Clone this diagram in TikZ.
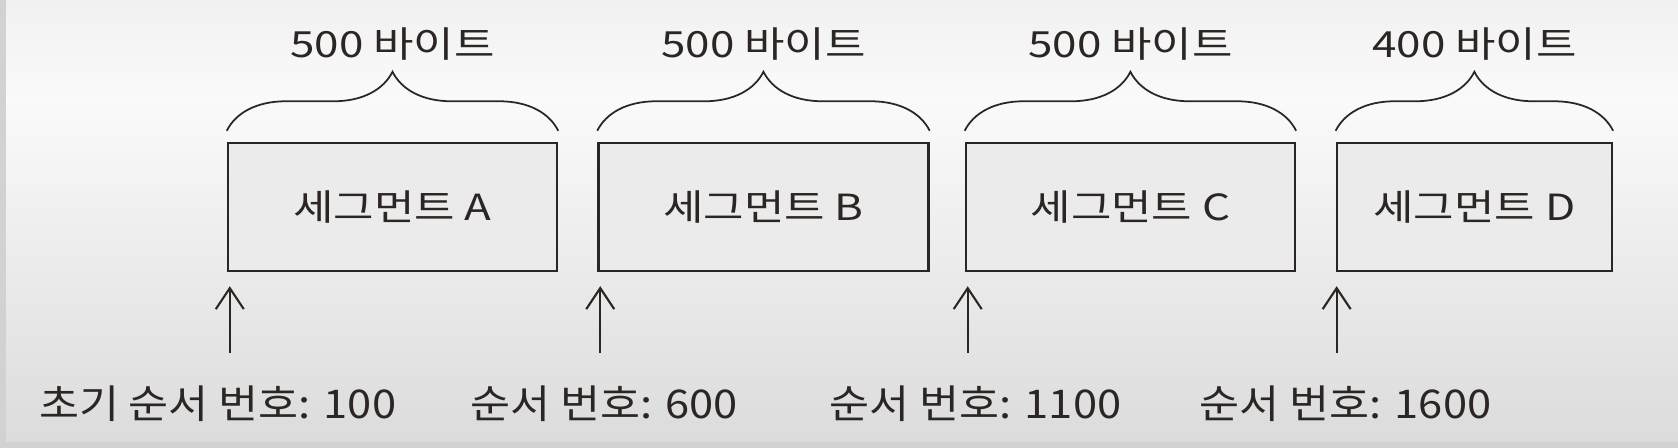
\documentclass[tikz,border=0pt]{standalone}
\usepackage{fontspec}
\newfontfamily\krfont[FakeStretch=1.1]{Noto Sans CJK KR}
\newfontfamily\krwide[FakeStretch=1.22]{Noto Sans CJK KR}
\usetikzlibrary{positioning,calc,arrows.meta,decorations.pathreplacing}
\definecolor{inkdark}{HTML}{2B2623}
\definecolor{papertop}{HTML}{F1F1F1}
\definecolor{paperlight}{HTML}{FAFAFA}
\definecolor{papergray}{HTML}{DBDBDB}
\definecolor{paperedge}{HTML}{D2D2D2}
\definecolor{boxgray}{HTML}{EBEBEB}

\begin{document}
\begin{tikzpicture}[
  segbox/.style={rectangle,draw=inkdark,line width=1.4pt,fill=boxgray,minimum width=#1,minimum height=2.56cm,
    font=\krwide\fontsize{20.5}{24}\selectfont,text=inkdark},
  sizebrace/.style={draw=inkdark,line width=1pt,decorate,decoration={brace,amplitude=1.18cm}},
  sizelabel/.style={font=\krwide\fontsize{20.5}{24}\selectfont,text=inkdark},
  seqarrow/.style={draw=inkdark,line width=1.2pt,shorten >=0.28cm,-{Straight Barb[length=0.42cm,width=0.56cm]}},
  seqlabel/.style={font=\krfont\fontsize{22.5}{26}\selectfont,text=inkdark},
]
  % paper
  \shade[top color=papertop,bottom color=paperlight] (0,0) rectangle (33.56,-2);
  \shade[top color=paperlight,bottom color=papergray] (0,-2) rectangle (33.56,-8.96);
  \fill[paperedge] (0,0) rectangle (0.12,-8.96);
  \fill[paperedge] (0,-8.84) rectangle (33.56,-8.96);
  \useasboundingbox (0,0) rectangle (33.56,-8.96);

  % segments
  \node[segbox=6.58cm] (segA) at (7.85,-4.14) {세그먼트 A};
  \node[segbox=6.6cm,right=0.78cm of segA] (segB) {세그먼트 B};
  \node[segbox=6.58cm,right=0.7cm of segB] (segC) {세그먼트 C};
  \node[segbox=5.5cm,right=0.79cm of segC] (segD) {세그먼트 D};

  % sizes
  \foreach \seg in {segA,segB,segC,segD}
    \draw[sizebrace] ($(\seg.north west)+(0,0.22)$) -- ($(\seg.north east)+(0,0.22)$);
  \node[sizelabel] (sizeA) at ($(segA.north)+(0,1.96)$) {500 바이트};
  \node[sizelabel] (sizeB) at ($(segB.north)+(0,1.96)$) {500 바이트};
  \node[sizelabel] (sizeC) at ($(segC.north)+(0,1.96)$) {500 바이트};
  \node[sizelabel] (sizeD) at ($(segD.north)+(0,1.96)$) {400 바이트};

  % sequence numbers
  \coordinate (tailA) at ($(segA.south west)+(0.06,-1.62)$);
  \coordinate (tailB) at ($(segB.south west)+(0.06,-1.62)$);
  \coordinate (tailC) at ($(segC.south west)+(0.06,-1.62)$);
  \coordinate (tailD) at ($(segD.south west)+(0.02,-1.62)$);
  \foreach \seg in {A,B,C,D}
    \draw[seqarrow] (tail\seg) -- (tail\seg |- seg\seg.south);
  \node[seqlabel] (seqA) at ($(tailA)+(-0.24,-1.0)$) {초기 순서 번호: 100};
  \node[seqlabel] (seqB) at ($(tailB)+(0.08,-1.0)$) {순서 번호: 600};
  \node[seqlabel] (seqC) at ($(tailC)+(0.16,-1.0)$) {순서 번호: 1100};
  \node[seqlabel] (seqD) at ($(tailD)+(0.18,-1.0)$) {순서 번호: 1600};
\end{tikzpicture}
\end{document}
